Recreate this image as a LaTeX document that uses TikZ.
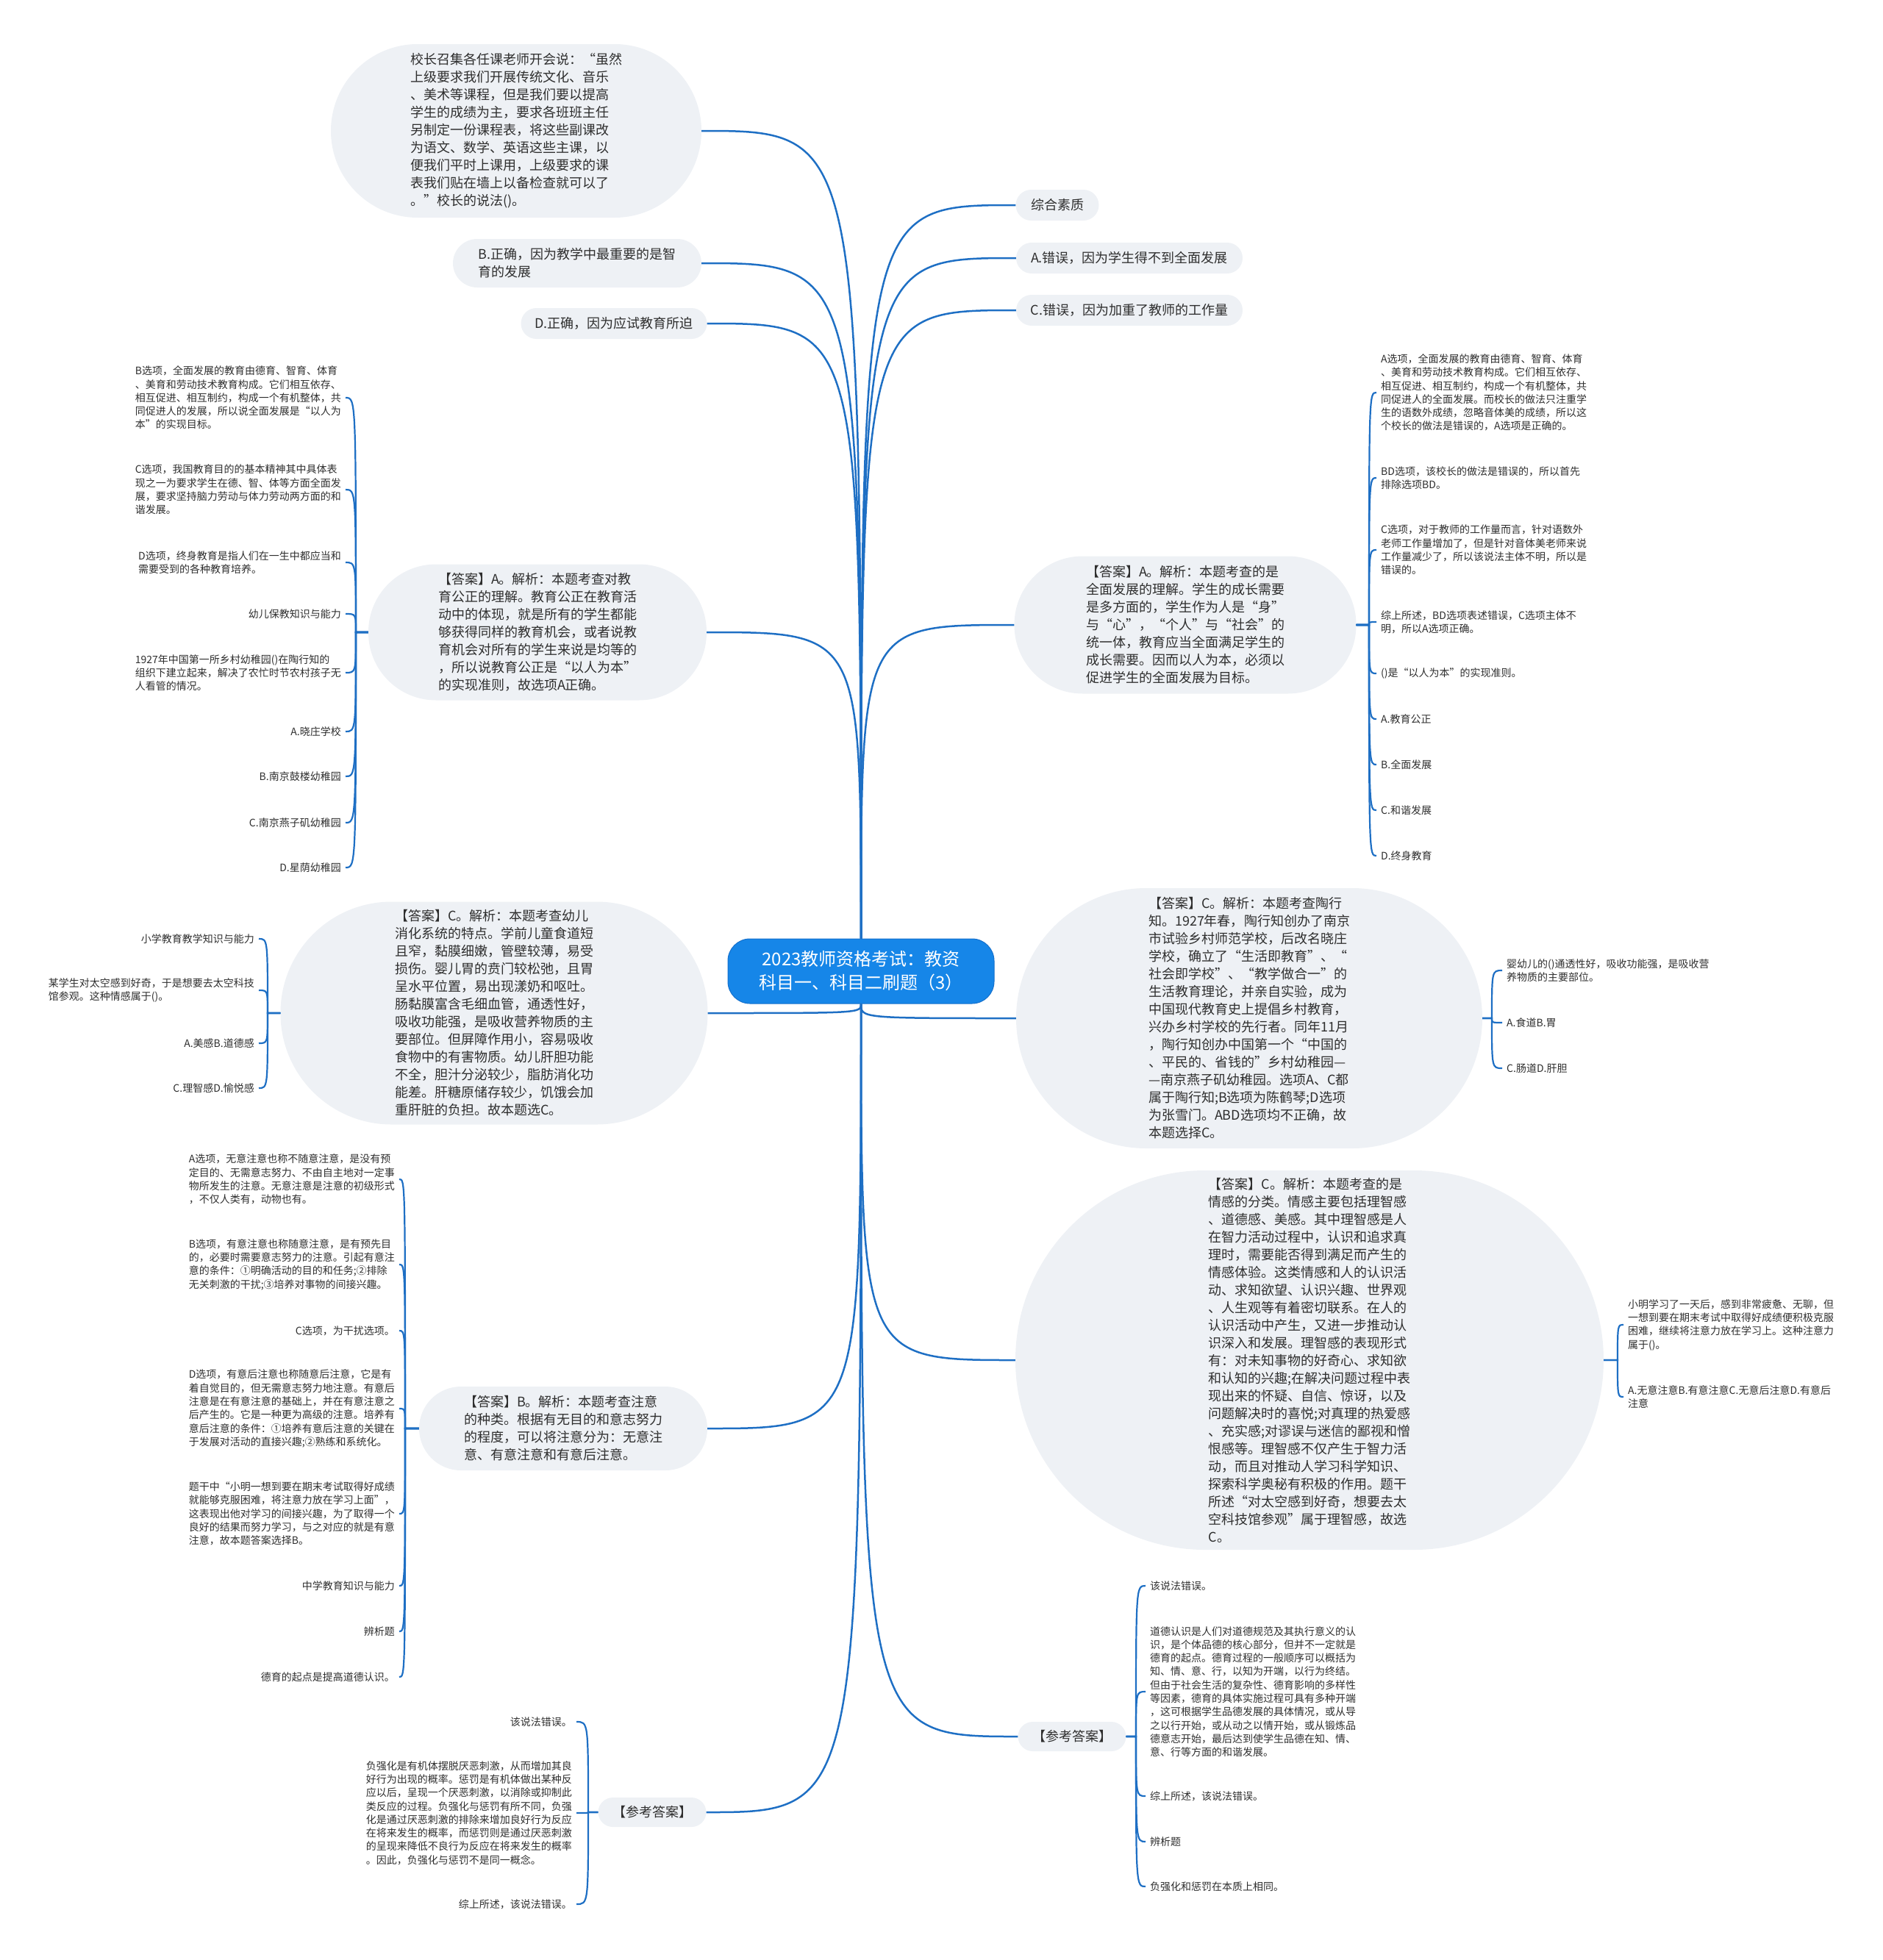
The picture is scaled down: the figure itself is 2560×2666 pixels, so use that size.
\documentclass[tikz,border=0pt]{standalone}
\usepackage{fontspec}
\setmainfont{Noto Sans CJK SC}
\definecolor{linkblue}{HTML}{1E6FC4}
\definecolor{rootblue}{HTML}{1686E8}
\definecolor{rootedge}{HTML}{1570CC}
\definecolor{bubblefill}{HTML}{EEF1F5}
\definecolor{txt}{HTML}{2E2E2E}
\begin{document}
\begin{tikzpicture}[x=1pt,y=-1pt,
  bubble/.style={fill=bubblefill, align=left, text=txt, font=\fontsize{18}{24}\selectfont, inner sep=0pt},
  leaf/.style={align=left, text=txt, font=\fontsize{14}{18.3}\selectfont, inner xsep=6pt, inner ysep=1pt},
  leafL/.style={leaf, anchor=east},
  leafR/.style={leaf, anchor=west},
  mlink/.style={draw=linkblue, line width=2.5pt},
  blink/.style={draw=linkblue, line width=2.2pt}]
\useasboundingbox (0,0) rectangle (2560,2666);

% root
\node[fill=rootblue, draw=rootedge, line width=1pt, rounded corners=30pt, minimum width=362pt, minimum height=88pt, text=white, align=center, font=\fontsize{24}{32}\selectfont] (root) at (1171,1321) {2023教师资格考试：教资\\科目一、科目二刷题（3）};

% upper left
\node[bubble, minimum width=504pt, minimum height=236pt, rounded corners=118pt] (q1) at (702,178) {校长召集各任课老师开会说：“虽然\\上级要求我们开展传统文化、音乐\\、美术等课程，但是我们要以提高\\学生的成绩为主，要求各班班主任\\另制定一份课程表，将这些副课改\\为语文、数学、英语这些主课，以\\便我们平时上课用，上级要求的课\\表我们贴在墙上以备检查就可以了\\。”校长的说法()。};
\node[bubble, minimum width=338pt, minimum height=66pt, rounded corners=33pt] (q2) at (785,358) {B.正确，因为教学中最重要的是智\\育的发展};
\node[bubble, minimum width=253pt, minimum height=42pt, rounded corners=21pt] (q3) at (835,440) {D.正确，因为应试教育所迫};

% upper right
\node[bubble, minimum width=113pt, minimum height=42pt, rounded corners=21pt] (r1) at (1438,279) {综合素质};
\node[bubble, minimum width=308pt, minimum height=42pt, rounded corners=21pt] (r2) at (1536,351) {A.错误，因为学生得不到全面发展};
\node[bubble, minimum width=308pt, minimum height=42pt, rounded corners=21pt] (r3) at (1536,422) {C.错误，因为加重了教师的工作量};

% answer bubbles
\node[bubble, minimum width=460pt, minimum height=185pt, rounded corners=92pt] (qa) at (731,860) {【答案】A。解析：本题考查对教\\育公正的理解。教育公正在教育活\\动中的体现，就是所有的学生都能\\够获得同样的教育机会，或者说教\\育机会对所有的学生来说是均等的\\，所以说教育公正是“以人为本”\\的实现准则，故选项A正确。};
\node[bubble, minimum width=465pt, minimum height=187pt, rounded corners=93pt] (qb) at (1612,850) {【答案】A。解析：本题考查的是\\全面发展的理解。学生的成长需要\\是多方面的，学生作为人是“身”\\与“心”，“个人”与“社会”的\\统一体，教育应当全面满足学生的\\成长需要。因而以人为本，必须以\\促进学生的全面发展为目标。};
\node[bubble, minimum width=581pt, minimum height=303pt, rounded corners=151pt] (qc) at (672,1378) {【答案】C。解析：本题考查幼儿\\消化系统的特点。学前儿童食道短\\且窄，黏膜细嫩，管壁较薄，易受\\损伤。婴儿胃的贲门较松弛，且胃\\呈水平位置，易出现漾奶和呕吐。\\肠黏膜富含毛细血管，通透性好，\\吸收功能强，是吸收营养物质的主\\要部位。但屏障作用小，容易吸收\\食物中的有害物质。幼儿肝胆功能\\不全，胆汁分泌较少，脂肪消化功\\能差。肝糖原储存较少，饥饿会加\\重肝脏的负担。故本题选C。};
\node[bubble, minimum width=634pt, minimum height=354pt, rounded corners=177pt] (qd) at (1699,1385) {【答案】C。解析：本题考查陶行\\知。1927年春，陶行知创办了南京\\市试验乡村师范学校，后改名晓庄\\学校，确立了“生活即教育”、“\\社会即学校”、“教学做合一”的\\生活教育理论，并亲自实验，成为\\中国现代教育史上提倡乡村教育，\\兴办乡村学校的先行者。同年11月\\，陶行知创办中国第一个“中国的\\、平民的、省钱的”乡村幼稚园—\\—南京燕子矶幼稚园。选项A、C都\\属于陶行知;B选项为陈鹤琴;D选项\\为张雪门。ABD选项均不正确，故\\本题选择C。};
\node[bubble, minimum width=800pt, minimum height=516pt, rounded corners=258pt] (qe) at (1781,1850) {【答案】C。解析：本题考查的是\\情感的分类。情感主要包括理智感\\、道德感、美感。其中理智感是人\\在智力活动过程中，认识和追求真\\理时，需要能否得到满足而产生的\\情感体验。这类情感和人的认识活\\动、求知欲望、认识兴趣、世界观\\、人生观等有着密切联系。在人的\\认识活动中产生，又进一步推动认\\识深入和发展。理智感的表现形式\\有：对未知事物的好奇心、求知欲\\和认知的兴趣;在解决问题过程中表\\现出来的怀疑、自信、惊讶，以及\\问题解决时的喜悦;对真理的热爱感\\、充实感;对谬误与迷信的鄙视和憎\\恨感等。理智感不仅产生于智力活\\动，而且对推动人学习科学知识、\\探索科学奥秘有积极的作用。题干\\所述“对太空感到好奇，想要去太\\空科技馆参观”属于理智感，故选\\C。};
\node[bubble, minimum width=392pt, minimum height=114pt, rounded corners=57pt] (qf) at (766,1943) {【答案】B。解析：本题考查注意\\的种类。根据有无目的和意志努力\\的程度，可以将注意分为：无意注\\意、有意注意和有意后注意。};
\node[bubble, minimum width=147pt, minimum height=40pt, rounded corners=20pt] (qr) at (1458,2362) {【参考答案】};
\node[bubble, minimum width=147pt, minimum height=40pt, rounded corners=20pt] (ql) at (887,2465) {【参考答案】};

% junctions
\coordinate (ja) at (484,860);
\coordinate (jb) at (1862,850);
\coordinate (jc) at (364,1378);
\coordinate (jd) at (2029,1385);
\coordinate (je) at (2200,1850);
\coordinate (jf) at (551,1943);
\coordinate (jg) at (1545,2362);
\coordinate (jh) at (800,2465);

% children of qa (left)
\node[leafL] (a1) at (470,541) {B选项，全面发展的教育由德育、智育、体育\\、美育和劳动技术教育构成。它们相互依存、\\相互促进、相互制约，构成一个有机整体，共\\同促进人的发展，所以说全面发展是“以人为\\本”的实现目标。};
\node[leafL] (a2) at (470,666) {C选项，我国教育目的的基本精神其中具体表\\现之一为要求学生在德、智、体等方面全面发\\展，要求坚持脑力劳动与体力劳动两方面的和\\谐发展。};
\node[leafL] (a3) at (470,765) {D选项，终身教育是指人们在一生中都应当和\\需要受到的各种教育培养。};
\node[leafL] (a4) at (470,835) {幼儿保教知识与能力};
\node[leafL] (a5) at (470,915) {1927年中国第一所乡村幼稚园()在陶行知的\\组织下建立起来，解决了农忙时节农村孩子无\\人看管的情况。};
\node[leafL] (a6) at (470,995) {A.晓庄学校};
\node[leafL] (a7) at (470,1056) {B.南京鼓楼幼稚园};
\node[leafL] (a8) at (470,1119) {C.南京燕子矶幼稚园};
\node[leafL] (a9) at (470,1180) {D.星荫幼稚园};

% children of qb (right)
\node[leafR] (b1) at (1872,534) {A选项，全面发展的教育由德育、智育、体育\\、美育和劳动技术教育构成。它们相互依存、\\相互促进、相互制约，构成一个有机整体，共\\同促进人的全面发展。而校长的做法只注重学\\生的语数外成绩，忽略音体美的成绩，所以这\\个校长的做法是错误的，A选项是正确的。};
\node[leafR] (b2) at (1872,650) {BD选项，该校长的做法是错误的，所以首先\\排除选项BD。};
\node[leafR] (b3) at (1872,748) {C选项，对于教师的工作量而言，针对语数外\\老师工作量增加了，但是针对音体美老师来说\\工作量减少了，所以该说法主体不明，所以是\\错误的。};
\node[leafR] (b4) at (1872,846) {综上所述，BD选项表述错误，C选项主体不\\明，所以A选项正确。};
\node[leafR] (b5) at (1872,916) {()是“以人为本”的实现准则。};
\node[leafR] (b6) at (1872,978) {A.教育公正};
\node[leafR] (b7) at (1872,1040) {B.全面发展};
\node[leafR] (b8) at (1872,1102) {C.和谐发展};
\node[leafR] (b9) at (1872,1164) {D.终身教育};

% children of qc (left)
\node[leafL] (c1) at (352,1277) {小学教育教学知识与能力};
\node[leafL] (c2) at (352,1347) {某学生对太空感到好奇，于是想要去太空科技\\馆参观。这种情感属于()。};
\node[leafL] (c3) at (352,1419) {A.美感B.道德感};
\node[leafL] (c4) at (352,1480) {C.理智感D.愉悦感};

% children of qd (right)
\node[leafR] (d1) at (2043,1320) {婴幼儿的()通透性好，吸收功能强，是吸收营\\养物质的主要部位。};
\node[leafR] (d2) at (2043,1391) {A.食道B.胃};
\node[leafR] (d3) at (2043,1453) {C.肠道D.肝胆};

% children of qe (right)
\node[leafR] (e1) at (2208,1802) {小明学习了一天后，感到非常疲惫、无聊，但\\一想到要在期末考试中取得好成绩便积极克服\\困难，继续将注意力放在学习上。这种注意力\\属于()。};
\node[leafR] (e2) at (2208,1900) {A.无意注意B.有意注意C.无意后注意D.有意后\\注意};

% children of qf (left)
\node[leafL] (f1) at (543,1604) {A选项，无意注意也称不随意注意，是没有预\\定目的、无需意志努力、不由自主地对一定事\\物所发生的注意。无意注意是注意的初级形式\\，不仅人类有，动物也有。};
\node[leafL] (f2) at (543,1720) {B选项，有意注意也称随意注意，是有预先目\\的，必要时需要意志努力的注意。引起有意注\\意的条件：①明确活动的目的和任务;②排除\\无关刺激的干扰;③培养对事物的间接兴趣。};
\node[leafL] (f3) at (543,1810) {C选项，为干扰选项。};
\node[leafL] (f4) at (543,1916) {D选项，有意后注意也称随意后注意，它是有\\着自觉目的，但无需意志努力地注意。有意后\\注意是在有意注意的基础上，并在有意注意之\\后产生的。它是一种更为高级的注意。培养有\\意后注意的条件：①培养有意后注意的关键在\\于发展对活动的直接兴趣;②熟练和系统化。};
\node[leafL] (f5) at (543,2059) {题干中“小明一想到要在期末考试取得好成绩\\就能够克服困难，将注意力放在学习上面”，\\这表现出他对学习的间接兴趣，为了取得一个\\良好的结果而努力学习，与之对应的就是有意\\注意，故本题答案选择B。};
\node[leafL] (f6) at (543,2157) {中学教育知识与能力};
\node[leafL] (f7) at (543,2219) {辨析题};
\node[leafL] (f8) at (543,2281) {德育的起点是提高道德认识。};

% children of qr (right)
\node[leafR] (g1) at (1558,2157) {该说法错误。};
\node[leafR] (g2) at (1558,2301) {道德认识是人们对道德规范及其执行意义的认\\识，是个体品德的核心部分，但并不一定就是\\德育的起点。德育过程的一般顺序可以概括为\\知、情、意、行，以知为开端，以行为终结。\\但由于社会生活的复杂性、德育影响的多样性\\等因素，德育的具体实施过程可具有多种开端\\，这可根据学生品德发展的具体情况，或从导\\之以行开始，或从动之以情开始，或从锻炼品\\德意志开始，最后达到使学生品德在知、情、\\意、行等方面的和谐发展。};
\node[leafR] (g3) at (1558,2443) {综上所述，该说法错误。};
\node[leafR] (g4) at (1558,2505) {辨析题};
\node[leafR] (g5) at (1558,2566) {负强化和惩罚在本质上相同。};

% children of ql (left)
\node[leafL] (h1) at (784,2342) {该说法错误。};
\node[leafL] (h2) at (784,2466) {负强化是有机体摆脱厌恶刺激，从而增加其良\\好行为出现的概率。惩罚是有机体做出某种反\\应以后，呈现一个厌恶刺激，以消除或抑制此\\类反应的过程。负强化与惩罚有所不同，负强\\化是通过厌恶刺激的排除来增加良好行为反应\\在将来发生的概率，而惩罚则是通过厌恶刺激\\的呈现来降低不良行为反应在将来发生的概率\\。因此，负强化与惩罚不是同一概念。};
\node[leafL] (h3) at (784,2590) {综上所述，该说法错误。};

% main connectors
\foreach \t in {q1,q2,q3,qa}
  \draw[mlink] (root.north) .. controls (root.north |- \t.east) and (root.north |- \t.east) .. (\t.east);
\foreach \t in {r1,r2,r3,qb}
  \draw[mlink] (root.north) .. controls (root.north |- \t.west) and (root.north |- \t.west) .. (\t.west);
\foreach \t in {qc,qf,ql}
  \draw[mlink] (root.south) .. controls (root.south |- \t.east) and (root.south |- \t.east) .. (\t.east);
\foreach \t in {qd,qe,qr}
  \draw[mlink] (root.south) .. controls (root.south |- \t.west) and (root.south |- \t.west) .. (\t.west);

% bracket connectors
\foreach \c in {a1,a2,a3,a4,a5,a6,a7,a8,a9}
  \draw[blink] (qa.west) -- (ja) .. controls (ja |- \c.east) and (ja |- \c.east) .. (\c.east);
\foreach \c in {b1,b2,b3,b4,b5,b6,b7,b8,b9}
  \draw[blink] (qb.east) -- (jb) .. controls (jb |- \c.west) and (jb |- \c.west) .. (\c.west);
\foreach \c in {c1,c2,c3,c4}
  \draw[blink] (qc.west) -- (jc) .. controls (jc |- \c.east) and (jc |- \c.east) .. (\c.east);
\foreach \c in {d1,d2,d3}
  \draw[blink] (qd.east) -- (jd) .. controls (jd |- \c.west) and (jd |- \c.west) .. (\c.west);
\foreach \c in {e1,e2}
  \draw[blink] (qe.east) -- (je) .. controls (je |- \c.west) and (je |- \c.west) .. (\c.west);
\foreach \c in {f1,f2,f3,f4,f5,f6,f7,f8}
  \draw[blink] (qf.west) -- (jf) .. controls (jf |- \c.east) and (jf |- \c.east) .. (\c.east);
\foreach \c in {g1,g2,g3,g4,g5}
  \draw[blink] (qr.east) -- (jg) .. controls (jg |- \c.west) and (jg |- \c.west) .. (\c.west);
\foreach \c in {h1,h2,h3}
  \draw[blink] (ql.west) -- (jh) .. controls (jh |- \c.east) and (jh |- \c.east) .. (\c.east);
\end{tikzpicture}
\end{document}
